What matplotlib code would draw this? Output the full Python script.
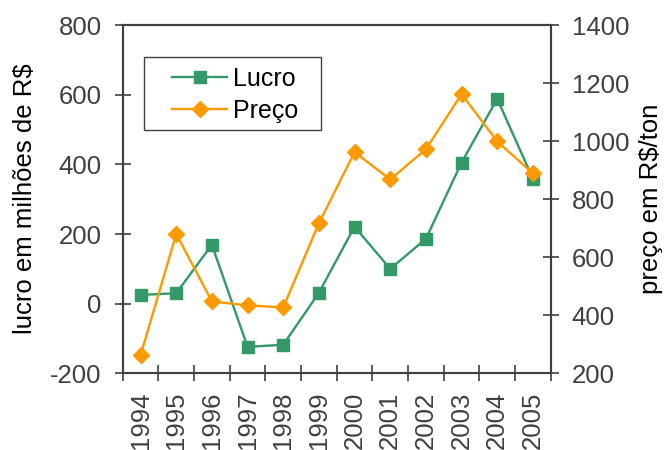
import matplotlib
matplotlib.use("Agg")
import matplotlib.pyplot as plt
from matplotlib.patches import Rectangle
import numpy as np

plt.rcParams["font.family"] = ["Liberation Sans", "DejaVu Sans"]
plt.rcParams["axes.unicode_minus"] = False

anos = ["1994", "1995", "1996", "1997", "1998", "1999",
        "2000", "2001", "2002", "2003", "2004", "2005"]
lucro = [25, 30, 169, -124, -118, 31, 221, 100, 186, 405, 588, 359]
preco = [262, 680, 448, 434, 427, 717, 962, 868, 972, 1162, 999, 889]

VERDE = "#339966"
LARANJA = "#FF9900"
CINZA = "#404040"
FONTE = 18.5

fig = plt.figure(figsize=(6.68, 4.5), dpi=100)
ax = fig.add_axes([0.1837, 0.1704, 0.6407, 0.7740])
ax2 = ax.twinx()

x = np.arange(len(anos))
l1, = ax.plot(x, lucro, color=VERDE, lw=1.7, marker="s", ms=8.5,
              label="Lucro", zorder=3)
l2, = ax2.plot(x, preco, color=LARANJA, lw=1.7, marker="D", ms=8,
               label="Preço", zorder=3)

ax.set_xlim(-0.5, len(anos) - 0.5)
ax.set_ylim(-200, 800)
ax2.set_ylim(200, 1400)
ax.set_yticks(np.arange(-200, 801, 200))
ax2.set_yticks(np.arange(200, 1401, 200))

# labels at the category centres, tick marks on the boundaries
ax.set_xticks(x)
ax.set_xticklabels(anos, rotation=90)
ax.set_xticks(np.arange(-0.5, len(anos)), minor=True)
ax.tick_params(axis="x", which="major", length=0, pad=13)
ax.tick_params(axis="x", which="minor", direction="inout", length=12,
               width=1.2, color=CINZA)

for a in (ax, ax2):
    a.tick_params(axis="y", direction="inout", length=11.5, width=1.2,
                  color=CINZA, labelcolor=CINZA, labelsize=FONTE, pad=9.3)
    for s in a.spines.values():
        s.set_color(CINZA)
        s.set_linewidth(1.5)
ax.tick_params(axis="x", labelcolor=CINZA, labelsize=FONTE)

ax.set_ylabel("lucro em milhões de R$", fontsize=FONTE)
ax.yaxis.set_label_coords(-0.229, 0.5)
ax2.set_ylabel("preço em R$/ton", fontsize=FONTE)
ax2.yaxis.set_label_coords(1.234, 0.5)
ax.yaxis.label.set_va("center")
ax2.yaxis.label.set_va("center")

# legend box drawn separately so the padding around the entries is wider
ax2.add_patch(Rectangle((0.0505, 0.6994), 0.412, 0.2079,
                        transform=ax2.transAxes, facecolor="white",
                        edgecolor=CINZA, lw=1.0, zorder=4))
leg = ax2.legend(handles=[l1, l2], loc="upper left",
                 bbox_to_anchor=(0.1152, 0.879), borderaxespad=0,
                 frameon=False, fontsize=18, handlelength=2.2,
                 handletextpad=0.25, labelspacing=0.32, borderpad=0)
leg.set_zorder(5)

fig.savefig("out.png", dpi=100)
